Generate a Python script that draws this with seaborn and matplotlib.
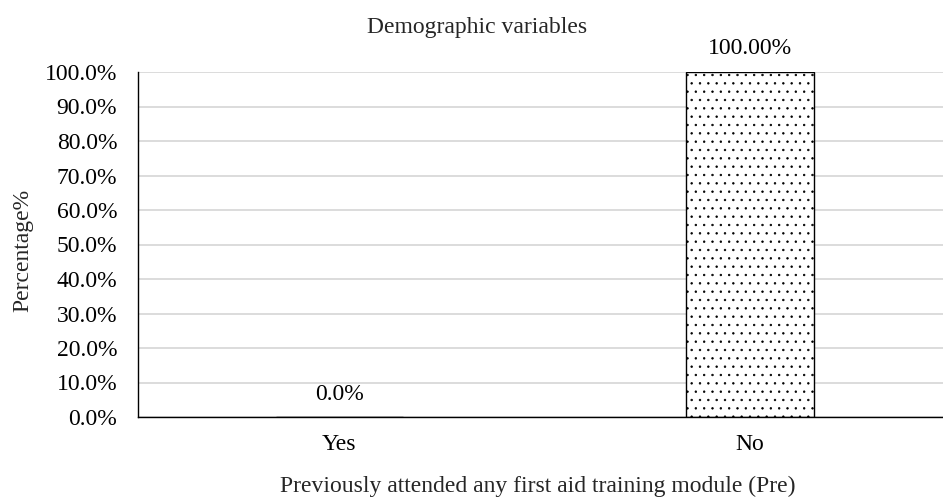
import pandas as pd
import seaborn as sns
import matplotlib.pyplot as plt

# data
categories = ['Yes', 'No']
percentages = [0.0, 100.0]
value_labels = ['0.0%', '100.00%']
y_ticks = [0, 10, 20, 30, 40, 50, 60, 70, 80, 90, 100]

df = pd.DataFrame({'answer': categories, 'pct': percentages})

sns.set_theme(style='white')
plt.rcParams['font.family'] = ['Liberation Serif', 'DejaVu Serif']
plt.rcParams['hatch.linewidth'] = 0.5
plt.rcParams['hatch.color'] = 'black'

FS = 17

fig = plt.figure(figsize=(9.43, 5.0), dpi=100)
ax = fig.add_axes([138 / 943, 83 / 500, 1 - 138 / 943, (417 - 72) / 500])

sns.barplot(data=df, x='answer', y='pct', color='white', edgecolor='black',
            linewidth=1.0, width=0.31, hatch='..', ax=ax, zorder=3)

# value labels above bars
for bar, lab in zip(ax.patches, value_labels):
    ax.annotate(lab, (bar.get_x() + bar.get_width() / 2, bar.get_height()),
                xytext=(0, 9), textcoords='offset points',
                ha='center', va='bottom', fontsize=FS, color='black')

ax.set_ylim(0, 100)
ax.set_xlim(-0.49, 1.47)
ax.set_yticks(y_ticks)
ax.set_yticklabels([f'{t:.1f}%' for t in y_ticks])
ax.yaxis.grid(True, color='#d9d9d9', linewidth=1.3, zorder=0)
ax.set_axisbelow(True)
ax.tick_params(axis='both', length=0, labelsize=FS, colors='black')
ax.tick_params(axis='x', pad=12)
ax.tick_params(axis='y', pad=15)

for side in ['top', 'right']:
    ax.spines[side].set_visible(False)
for side in ['left', 'bottom']:
    ax.spines[side].set_color('black')
    ax.spines[side].set_linewidth(1.0)
    ax.spines[side].set_zorder(4)

ax.set_xlabel('')
ax.set_ylabel('')

fig.text(477 / 943, 1 - 28 / 500, 'Demographic variables', ha='center', va='center',
         fontsize=FS)
fig.text(280 / 943, 1 - 486 / 500, 'Previously attended any first aid training module (Pre)',
         ha='left', va='center', fontsize=FS)
fig.text(23 / 943, 1 - 250 / 500, 'Percentage%', rotation=90, ha='center', va='center',
         fontsize=FS)

fig.savefig('out.png', dpi=100, facecolor='white')
